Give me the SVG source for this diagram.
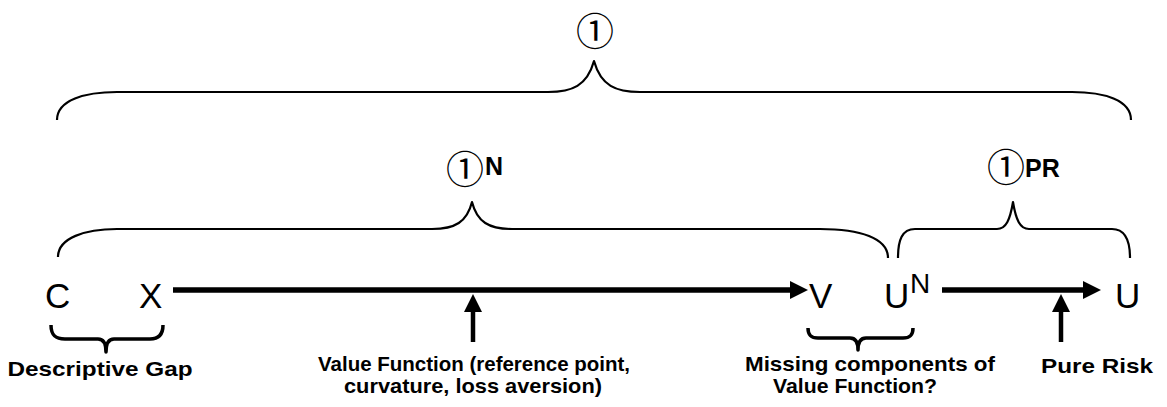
<svg xmlns="http://www.w3.org/2000/svg" width="1167" height="407" viewBox="0 0 1167 407">
  <defs>
    <style>
      .brace { fill: none; stroke: #000; stroke-width: 2.2; stroke-linejoin: round; }
      .brace-sm { fill: none; stroke: #000; stroke-width: 3.5; stroke-linejoin: round; }
      .arrow { fill: none; stroke: #000; stroke-width: 5.5; }
      .sym { font-family: "Liberation Sans", Arial, sans-serif; font-size: 35px; fill: #000; }
      .sup { font-family: "Liberation Sans", Arial, sans-serif; font-size: 28px; fill: #000; }
      .circ { font-family: "Noto Sans CJK JP", "DejaVu Sans", sans-serif; font-size: 38px; fill: #000; }
      .tag { font-family: "Liberation Sans", Arial, sans-serif; font-size: 25px; font-weight: bold; fill: #000; }
      .label { font-family: "Liberation Sans", Arial, sans-serif; font-size: 21px; font-weight: bold; fill: #000; text-anchor: middle; }
    </style>
    <marker id="head" markerUnits="userSpaceOnUse" markerWidth="18" markerHeight="18" refX="0" refY="9" orient="auto">
      <path d="M0,0 L18,9 L0,18 Z" fill="#000"/>
    </marker>
  </defs>
  <rect width="1167" height="407" fill="#fff"/>

  <!-- braces and arrows -->
  <g id="connectors">
    <!-- overall brace -->
    <path class="brace" d="M57,120 C57,100 85,92 117,92 L548,92 C572,92 587,86 594,61 C601,86 616,92 640,92 L1072,92 C1104,92 1131,100 1131,120"/>
    <!-- normative part brace -->
    <path class="brace" d="M58,257 C58,238 85,229 117,229 L432,229 C455,229 467,222 472,202 C477,222 489,229 512,229 L820,229 C860,229 888,238 888,258"/>
    <!-- pure risk brace -->
    <path class="brace" d="M898,258 C898,240 902,229 915,229 L997,229 C1006,229 1010,220 1013,202 C1016,220 1020,229 1029,229 L1112,229 C1125,229 1130,240 1130,258"/>
    <!-- gap braces under the symbols -->
    <path class="brace-sm" d="M51,325 C51,335 55,339 65,339 L98,339 C103,339 106,343 106,352 C106,343 109,339 114,339 L150,339 C158,339 163,335 163,325"/>
    <path class="brace-sm" d="M808,328 C808,335 811,338 818,338 L850,338 C855,338 858,342 858,350 C858,342 861,338 866,338 L903,338 C910,338 913,335 913,328"/>
    <!-- main arrows -->
    <line class="arrow" x1="173" y1="290" x2="790" y2="290" marker-end="url(#head)"/>
    <line class="arrow" x1="942" y1="290" x2="1083" y2="290" marker-end="url(#head)"/>
    <!-- pointer arrows -->
    <line class="arrow" x1="473" y1="342" x2="473" y2="312" marker-end="url(#head)" style="stroke-width:4.5"/>
    <line class="arrow" x1="1061" y1="342" x2="1061" y2="312" marker-end="url(#head)" style="stroke-width:4.5"/>
  </g>

  <g id="theta-total">
    <text class="circ" x="595" y="45" text-anchor="middle">①</text>
  </g>
  <g id="theta-n">
    <text class="circ" x="446" y="183">①</text>
    <text class="tag" x="485" y="175">N</text>
  </g>
  <g id="theta-pr">
    <text class="circ" x="987" y="181">①</text>
    <text class="tag" x="1025" y="177">PR</text>
  </g>

  <g id="node-c"><text class="sym" x="45" y="308">C</text></g>
  <g id="node-x"><text class="sym" x="139" y="308">X</text></g>
  <g id="node-v"><text class="sym" x="809" y="308">V</text></g>
  <g id="node-un">
    <text class="sym" x="884" y="308">U<tspan class="sup" x="910" y="293">N</tspan></text>
  </g>
  <g id="node-u"><text class="sym" x="1115" y="308">U</text></g>

  <g id="label-gap"><text class="label" x="100" y="376" textLength="185" lengthAdjust="spacingAndGlyphs">Descriptive Gap</text></g>
  <g id="label-value">
    <text class="label" x="474" y="371" textLength="312" lengthAdjust="spacingAndGlyphs">Value Function (reference point,</text>
    <text class="label" x="473" y="393" textLength="258" lengthAdjust="spacingAndGlyphs">curvature, loss aversion)</text>
  </g>
  <g id="label-missing">
    <text class="label" x="870" y="371" textLength="250" lengthAdjust="spacingAndGlyphs">Missing components of</text>
    <text class="label" x="855" y="393" textLength="164" lengthAdjust="spacingAndGlyphs">Value Function?</text>
  </g>
  <g id="label-risk"><text class="label" x="1097" y="373" textLength="112" lengthAdjust="spacingAndGlyphs">Pure Risk</text></g>
</svg>
